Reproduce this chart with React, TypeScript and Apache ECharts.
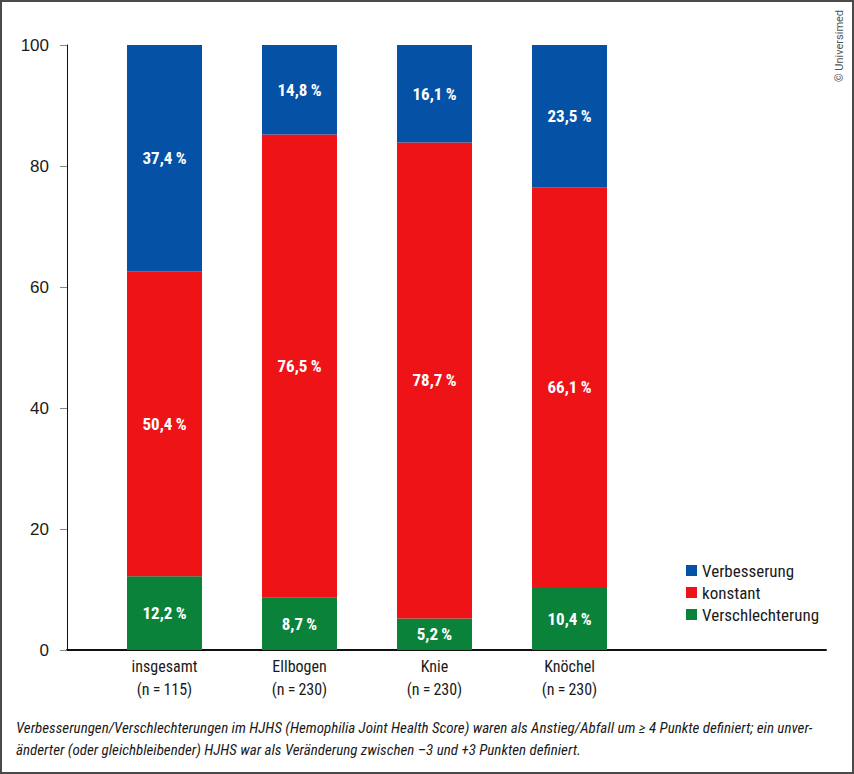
import React, { useEffect, useRef } from "react";
import * as echarts from "echarts";

const categories = ["insgesamt", "Ellbogen", "Knie", "Knöchel"];
const sampleSizes = ["115", "230", "230", "230"];
const verschlechterung = [12.2, 8.7, 5.2, 10.4];
const konstant = [50.4, 76.5, 78.7, 66.1];
const verbesserung = [37.4, 14.8, 16.1, 23.5];
const yTicks = [0, 20, 40, 60, 80, 100];

const seriesNames = ["Verbesserung", "konstant", "Verschlechterung"];
const colors = { blue: "#0451a6", red: "#ee1317", green: "#0b8239" };

const footnote1 =
  "Verbesserungen/Verschlechterungen im HJHS (Hemophilia Joint Health Score) waren als Anstieg/Abfall um ≥ 4 Punkte definiert; ein unver-";
const footnote2 =
  "änderter (oder gleichbleibender) HJHS war als Veränderung zwischen –3 und +3 Punkten definiert.";

const FONT = "'Liberation Sans Narrow', 'Roboto Condensed', 'Arial Narrow', Roboto, sans-serif";

export default function App() {
  const ref = useRef<HTMLDivElement>(null);
  useEffect(() => {
    document.body.style.margin = "0";
    const chart = echarts.init(ref.current!, null, { renderer: "svg" });
    const pct = (p: any) => p.value.toFixed(1).replace(".", ",") + "\u2009%";
    const mk = (name: string, vals: number[], color: string) => ({
      name,
      type: "bar",
      stack: "total",
      barWidth: 75,
      xAxisIndex: 0,
      yAxisIndex: 0,
      data: vals,
      itemStyle: { color },
      label: {
        show: true,
        position: "inside",
        color: "#fff",
        fontWeight: "bold",
        fontSize: 17,
        fontFamily: FONT,
        formatter: pct,
      },
    });
    chart.setOption({
      animation: false,
      backgroundColor: "#fff",
      grid: [
        { left: 97, width: 540, top: 45, bottom: 124 },
        { left: 67, right: 28, top: 45, bottom: 124 },
      ],
      legend: {
        orient: "vertical",
        left: 686,
        top: 562,
        padding: 0,
        itemWidth: 11,
        itemHeight: 11,
        itemGap: 5,
        icon: "rect",
        data: seriesNames,
        textStyle: { fontSize: 17, lineHeight: 17, color: "#1a1a1a", fontFamily: FONT },
      },
      xAxis: [
        {
          type: "category",
          gridIndex: 0,
          data: categories,
          axisLine: { show: false },
          axisTick: { show: false },
          axisLabel: {
            margin: 5,
            fontSize: 16,
            lineHeight: 23,
            color: "#1a1a1a",
            fontFamily: FONT,
            formatter: (v: string, i: number) =>
              v + "\n(n\u2009=\u2009" + sampleSizes[i] + ")",
          },
        },
        {
          type: "value",
          gridIndex: 1,
          min: 0,
          max: 1,
          splitLine: { show: false },
          axisTick: { show: false },
          axisLabel: { show: false },
          axisLine: { show: true, lineStyle: { color: "#111", width: 2 } },
        },
      ],
      yAxis: [
        {
          type: "value",
          gridIndex: 0,
          offset: 30,
          min: yTicks[0],
          max: yTicks[yTicks.length - 1],
          interval: 20,
          splitLine: { show: false },
          axisLine: { show: true, lineStyle: { color: "#111", width: 1 } },
          axisTick: { show: true, length: 7, lineStyle: { color: "#888" } },
          axisLabel: {
            margin: 18,
            fontSize: 17,
            color: "#1a1a1a",
            fontFamily: "'Liberation Sans', Arial, sans-serif",
          },
        },
        {
          type: "value",
          gridIndex: 1,
          show: false,
          min: 0,
          max: 100,
          splitLine: { show: false },
        },
      ],
      series: [
        mk(seriesNames[2], verschlechterung, colors.green),
        mk(seriesNames[1], konstant, colors.red),
        mk(seriesNames[0], verbesserung, colors.blue),
      ],
      graphic: [
        {
          type: "rect",
          shape: { x: 1, y: 1, width: 852, height: 772 },
          style: { fill: "none", stroke: "#4a4a4a", lineWidth: 2 },
          silent: true,
        },
        {
          type: "text",
          x: 839,
          y: 46,
          rotation: Math.PI / 2,
          style: {
            text: "© Universimed",
            fontSize: 11,
            fill: "#555",
            fontFamily: "Roboto, sans-serif",
            align: "center",
            verticalAlign: "middle",
          },
        },
        {
          type: "text",
          left: 16,
          top: 717,
          style: {
            text: footnote1 + "\n" + footnote2,
            fontSize: 15,
            lineHeight: 22,
            fontStyle: "italic",
            fill: "#1a1a1a",
            fontFamily: FONT,
          },
        },
      ],
    });
    return () => chart.dispose();
  }, []);
  return <div ref={ref} style={{ width: 854, height: 774 }} />;
}
